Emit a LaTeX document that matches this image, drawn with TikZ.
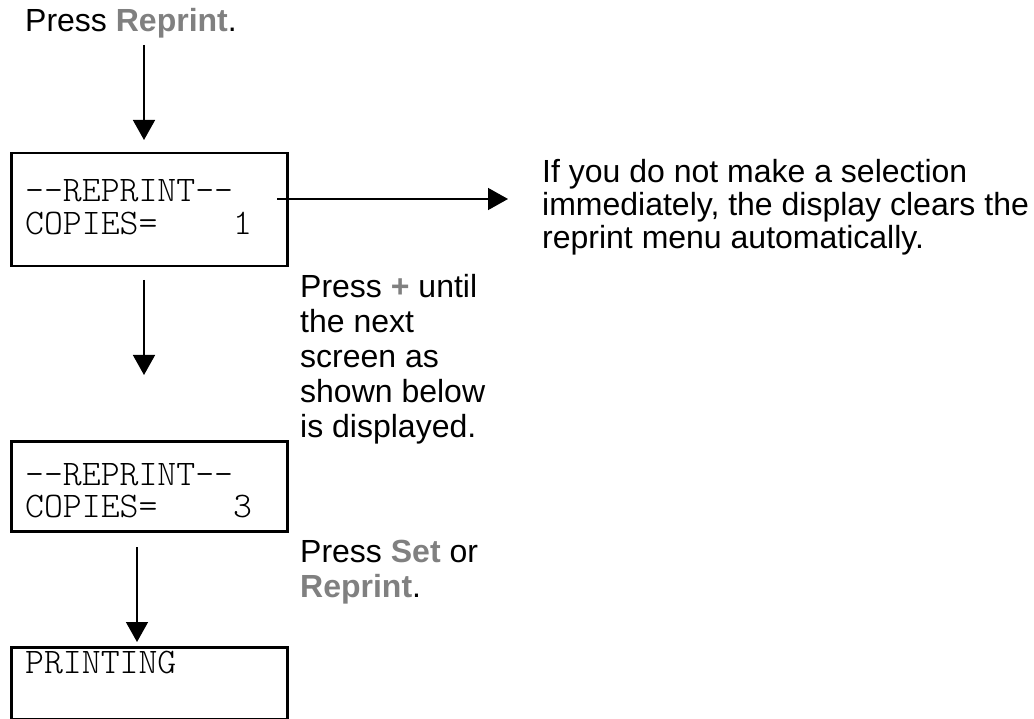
\documentclass[tikz,border=0pt]{standalone}
\usepackage{fontspec}
\setmainfont{Liberation Sans}
\newfontfamily\lcdfont{Latin Modern Mono Light}
\usetikzlibrary{arrows.meta}
\definecolor{keygrey}{HTML}{808080}
\newcommand{\keyname}[1]{\textcolor{keygrey}{\textbf{#1}}}
\begin{document}
\begin{tikzpicture}[x=1pt,y=-1pt,
  font=\fontsize{32}{35}\selectfont,
  screen/.style={draw, line width=2.5pt, minimum width=276pt, inner sep=0pt, anchor=north west},
  lcd/.style={font=\fontsize{36}{32.5}\selectfont\lcdfont, anchor=base west, inner sep=0pt},
  txt/.style={anchor=base west, inner sep=0pt},
  arr/.style={line width=1.5pt, -{Triangle[width=22pt,length=20pt]}}]
\useasboundingbox (0,0) rectangle (1034,719);

\node[txt] (press1) at (25,32) {Press \keyname{Reprint}.};

\node[screen, minimum height=113pt] (box1) at (10,152) {};
\node[lcd] (l1) at (25,202) {\begin{tabular}[t]{@{}l@{}}-{}-REPRINT-{}-\\ COPIES=\hphantom{0000}1\end{tabular}};

\node[txt] (note) at (542,183) {\begin{tabular}[t]{@{}l@{}}If you do not make a selection\\[-2pt] immediately, the display clears the\\[-2pt] reprint menu automatically.\end{tabular}};

\node[txt] (press2) at (300,298) {\begin{tabular}[t]{@{}l@{}}Press \keyname{+} until\\ the next\\ screen as\\ shown below\\ is displayed.\end{tabular}};

\node[screen, minimum height=90pt] (box2) at (10,440) {};
\node[lcd] (l2) at (25,485) {\begin{tabular}[t]{@{}l@{}}-{}-REPRINT-{}-\\ COPIES=\hphantom{0000}3\end{tabular}};

\node[txt] (press3) at (300,562) {\begin{tabular}[t]{@{}l@{}}Press \keyname{Set} or\\ \keyname{Reprint}.\end{tabular}};

\node[screen, minimum height=72pt] (box3) at (10,646) {};
\node[lcd] (l3) at (25,673) {PRINTING};

\coordinate (a1) at (144,45);
\draw[arr, shorten >=12pt] (a1) -- (a1 |- box1.north);
\coordinate (a2) at (144,280);
\draw[arr, shorten >=65pt] (a2) -- (a2 |- box2.north);
\coordinate (a3) at (137,547);
\draw[arr, shorten >=4pt] (a3) -- (a3 |- box3.north);
\coordinate (a4) at (277,199);
\draw[arr, shorten >=34pt] (a4) -- (a4 -| note.west);
\end{tikzpicture}
\end{document}
